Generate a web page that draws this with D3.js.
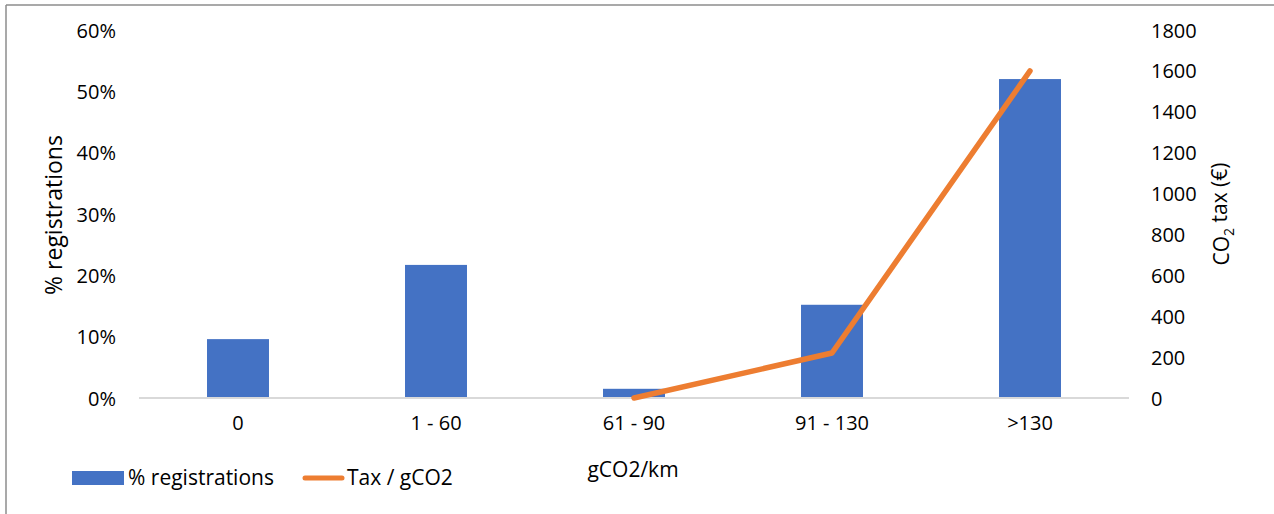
<!DOCTYPE html>
<html>
<head>
<meta charset="utf-8">
<script src="https://cdn.jsdelivr.net/npm/d3@7"></script>
<style>
  html, body { margin: 0; padding: 0; background: #fff; }
  svg { display: block; }
  text { font-family: "Open Sans", "Noto Sans", sans-serif; fill: #000; }
</style>
</head>
<body>
<svg id="chart" width="1274" height="514"></svg>
<script>
// Emission bands (gCO2/km)
const categories = ["0", "1 - 60", "61 - 90", "91 - 130", ">130"];
// Share of new registrations per band (%)
const registrations = [9.6, 21.7, 1.5, 15.2, 52.0];
// CO2 tax per band (€); no tax for the first two bands
const taxBands = ["61 - 90", "91 - 130", ">130"];
const taxValues = [0, 220, 1600];
// Axis ticks
const leftTicks = [0, 10, 20, 30, 40, 50, 60];
const rightTicks = [0, 200, 400, 600, 800, 1000, 1200, 1400, 1600, 1800];

const svg = d3.select("#chart");
const W = 1274, H = 514;
const plot = { left: 139, right: 1129, top: 30, bottom: 398 };

// Chart-area frame (left and top edges)
svg.append("line").attr("x1", 6).attr("x2", 6).attr("y1", 5).attr("y2", H)
  .attr("stroke", "#8c8c8c").attr("stroke-width", 1.5);
svg.append("line").attr("x1", 6).attr("x2", W).attr("y1", 5).attr("y2", 5)
  .attr("stroke", "#8c8c8c").attr("stroke-width", 1.5);

const x = d3.scaleBand().domain(categories).range([plot.left, plot.right])
  .paddingInner(0.687).paddingOuter(0.3435);
const yL = d3.scaleLinear().domain([0, 60]).range([plot.bottom, plot.top]);
const yR = d3.scaleLinear().domain([0, 1800]).range([plot.bottom, plot.top]);

// Bars
svg.append("g").selectAll("rect").data(categories.map((c, i) => ({ c, v: registrations[i] })))
  .join("rect")
  .attr("x", d => x(d.c))
  .attr("width", x.bandwidth())
  .attr("y", d => yL(d.v))
  .attr("height", d => yL(0) - yL(d.v))
  .attr("fill", "#4472c4");

// Category baseline
svg.append("line")
  .attr("x1", plot.left).attr("x2", plot.right)
  .attr("y1", yL(0)).attr("y2", yL(0))
  .attr("stroke", "#d9d9d9").attr("stroke-width", 2);

// Tax line
const line = d3.line()
  .x(d => x(d.c) + x.bandwidth() / 2)
  .y(d => yR(d.v));
svg.append("path")
  .datum(taxBands.map((c, i) => ({ c, v: taxValues[i] })))
  .attr("d", line)
  .attr("fill", "none")
  .attr("stroke", "#ed7d31")
  .attr("stroke-width", 5.5)
  .attr("stroke-linecap", "round")
  .attr("stroke-linejoin", "round");

// Left axis
const leftAxis = svg.append("g")
  .attr("transform", `translate(${plot.left - 23},0)`)
  .call(d3.axisLeft(yL).tickValues(leftTicks).tickFormat(d => d + "%").tickSize(0).tickPadding(0));
leftAxis.select(".domain").remove();
leftAxis.selectAll("text").style("font-size", "20px").attr("dy", "0.35em");

// Right axis
const rightAxis = svg.append("g")
  .attr("transform", `translate(${plot.right + 22},0)`)
  .call(d3.axisRight(yR).tickValues(rightTicks).tickFormat(d3.format("d")).tickSize(0).tickPadding(0));
rightAxis.select(".domain").remove();
rightAxis.selectAll("text").style("font-size", "20px").attr("dy", "0.35em");

// Category axis
const bottomAxis = svg.append("g")
  .attr("transform", `translate(0,${plot.bottom})`)
  .call(d3.axisBottom(x).tickSize(0).tickPadding(0));
bottomAxis.select(".domain").remove();
bottomAxis.selectAll("text").style("font-size", "20px").attr("dy", "1.6em");

// Axis titles
svg.append("text")
  .attr("transform", `translate(62,${(plot.top + plot.bottom) / 2 + 1}) rotate(-90)`)
  .attr("text-anchor", "middle")
  .style("font-size", "23px")
  .text("% registrations");

const rt = svg.append("text")
  .attr("transform", `translate(1222,${(plot.top + plot.bottom) / 2}) rotate(-90)`)
  .attr("text-anchor", "middle")
  .attr("dy", "0.35em")
  .style("font-size", "21px");
rt.append("tspan").text("CO");
rt.append("tspan").attr("dy", "0.3em").style("font-size", "14px").text("2");
rt.append("tspan").attr("dy", "-0.3em").text(" tax (€)");

svg.append("text")
  .attr("x", (plot.left + plot.right) / 2 - 1)
  .attr("y", 470)
  .attr("dy", "0.35em")
  .attr("text-anchor", "middle")
  .style("font-size", "21px")
  .text("gCO2/km");

// Legend
const legend = svg.append("g");
legend.append("rect").attr("x", 72).attr("y", 471).attr("width", 52).attr("height", 14).attr("fill", "#4472c4");
legend.append("text").attr("x", 128).attr("y", 478).attr("dy", "0.35em").style("font-size", "21px").text("% registrations");
legend.append("line").attr("x1", 305).attr("x2", 342).attr("y1", 478).attr("y2", 478)
  .attr("stroke", "#ed7d31").attr("stroke-width", 5).attr("stroke-linecap", "round");
legend.append("text").attr("x", 347).attr("y", 478).attr("dy", "0.35em").style("font-size", "21px").text("Tax / gCO2");
</script>
</body>
</html>
